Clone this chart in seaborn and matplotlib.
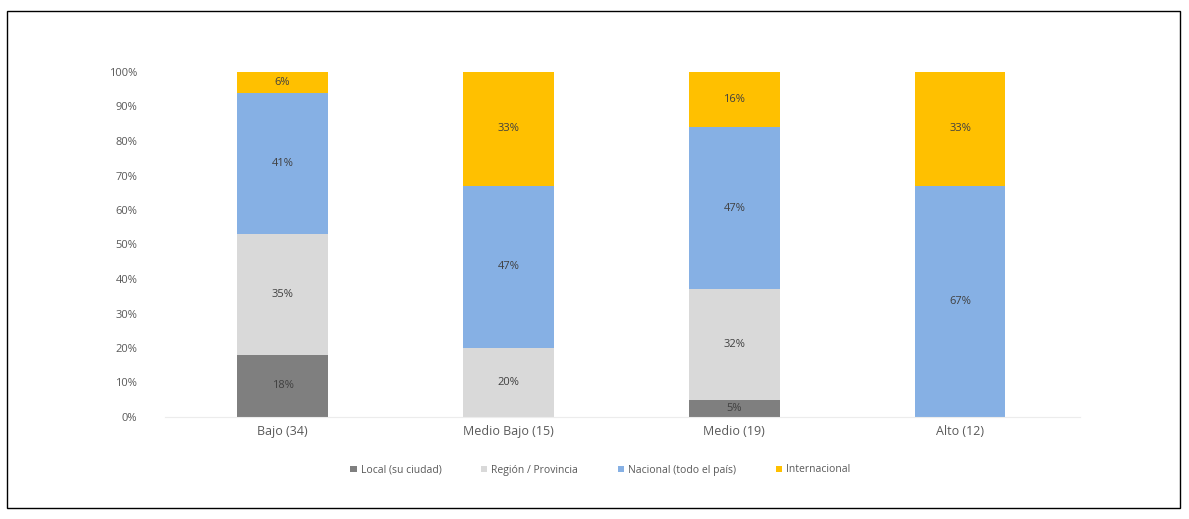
import matplotlib
matplotlib.use("Agg")
import matplotlib.pyplot as plt
import seaborn as sns
import pandas as pd
import numpy as np
from matplotlib.patches import Rectangle, Patch

categories = ["Bajo (34)", "Medio Bajo (15)", "Medio (19)", "Alto (12)"]
series_names = ["Local (su ciudad)", "Región / Provincia", "Nacional (todo el país)", "Internacional"]
local = [18, 0, 5, 0]
region = [35, 20, 32, 0]
nacional = [41, 47, 47, 67]
internacional = [6, 33, 16, 33]
colors = ["#7f7f7f", "#d9d9d9", "#86b0e4", "#ffc000"]

sns.set_theme(style="white")
plt.rcParams['font.family'] = ['Open Sans', 'DejaVu Sans']

fig = plt.figure(figsize=(11.89, 5.19), dpi=100)
ax = fig.add_axes([165/1189, (519-417)/519, 915/1189, 345/519])

series = [local, region, nacional, internacional]
bottom = np.zeros(len(categories))
for name, vals, col in zip(series_names, series, colors):
    df = pd.DataFrame({"cat": categories, "val": np.array(vals) / 100.0})
    sns.barplot(data=df, x="cat", y="val", color=col, width=0.4, bottom=bottom,
                ax=ax, saturation=1, linewidth=0, order=categories)
    for i, v in enumerate(vals):
        if v > 0:
            ax.text(i, bottom[i] + v / 200.0, f"{v}%", ha="center", va="center",
                    fontsize=8, color="#404040")
    bottom = bottom + np.array(vals) / 100.0

ax.set_xlim(-0.52, 3.53)
ax.set_ylim(0, 1)
ax.set_yticks(np.arange(0, 1.01, 0.1))
ax.set_yticklabels([f"{int(round(t*100))}%" for t in np.arange(0, 1.01, 0.1)],
                   fontsize=8, color="#595959")
ax.tick_params(axis="x", labelsize=9, colors="#595959", length=0, pad=6)
ax.tick_params(axis="y", length=0, pad=20)
ax.set_xlabel("")
ax.set_ylabel("")
for s in ["top", "right", "left"]:
    ax.spines[s].set_visible(False)
ax.spines["bottom"].set_color("#ececec")
ax.spines["bottom"].set_linewidth(0.8)

handles = [Patch(facecolor=c, edgecolor="none") for c in colors]
fig.legend(handles, series_names, loc="center", bbox_to_anchor=(0.505, 1 - 470/519),
           ncol=4, frameon=False, fontsize=7.5, handlelength=0.6, handleheight=0.6,
           columnspacing=3.8, handletextpad=0.4, labelcolor="#595959")

fig.patches.append(Rectangle((7/1189, 1 - 508/519), 1173/1189, 497/519,
                             transform=fig.transFigure, fill=False,
                             edgecolor="black", linewidth=1.0))

fig.savefig("out.png", dpi=100)
